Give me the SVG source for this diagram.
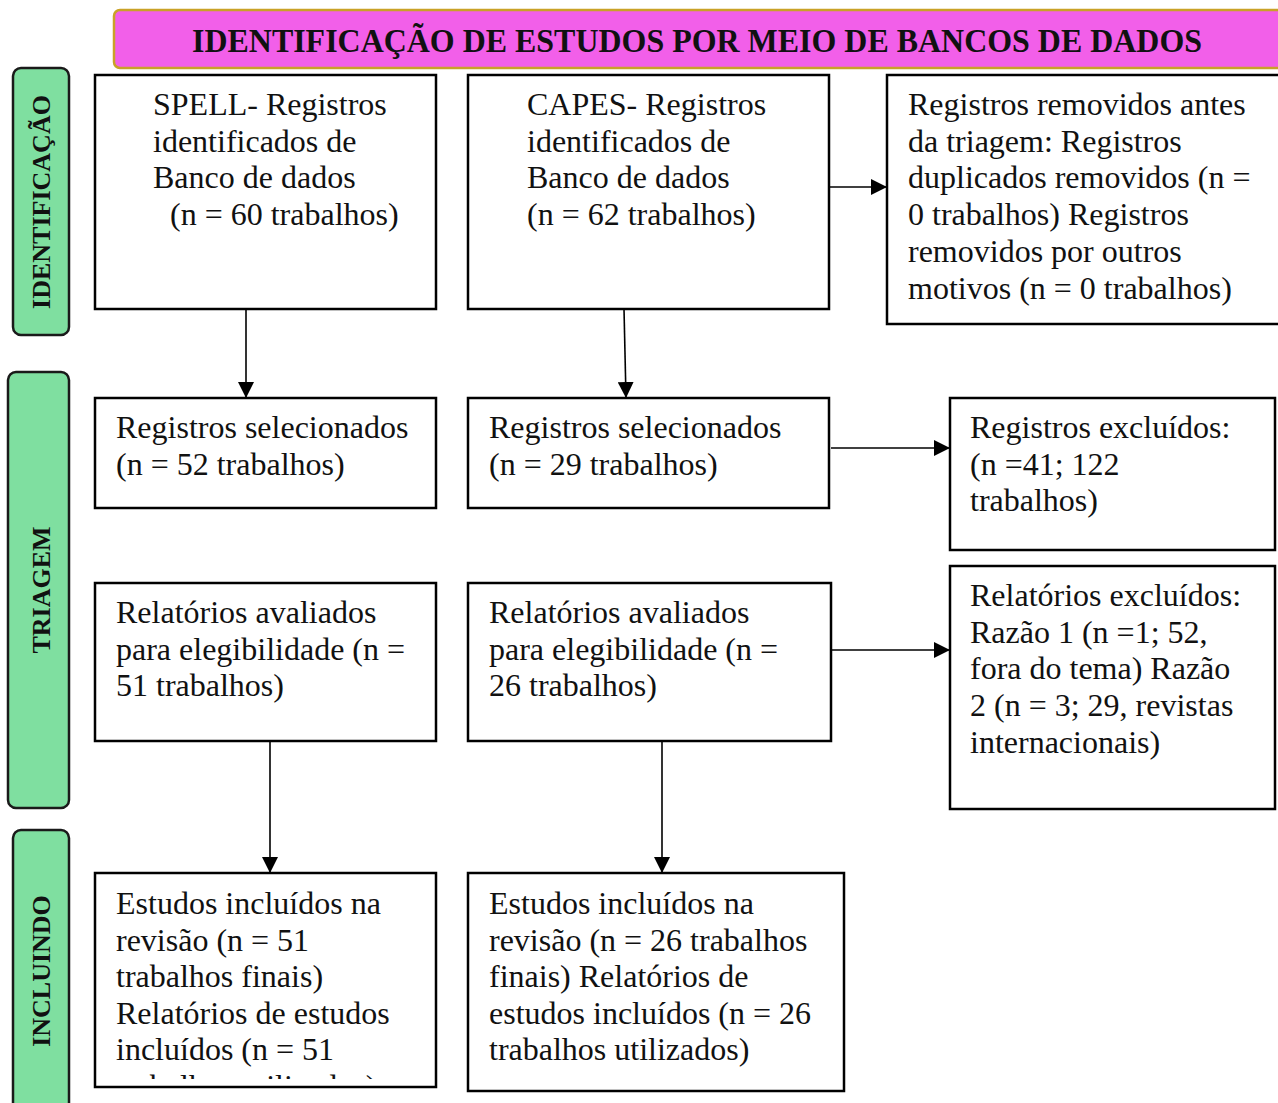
<svg xmlns="http://www.w3.org/2000/svg" width="1278" height="1103" viewBox="0 0 1278 1103">
<style>
.box{fill:#fff;stroke:#000;stroke-width:2.5}
.side{fill:#7FDFA0;stroke:#1a1a1a;stroke-width:2.5}
.t{font-family:"Liberation Serif","Times New Roman",serif;font-size:32px;fill:#111}
.st{font-family:"Liberation Serif","Times New Roman",serif;font-size:26px;font-weight:bold;fill:#111}
.c{stroke:#000;stroke-width:1.6;fill:none;marker-end:url(#ah)}
</style>
<defs>
<marker id="ah" viewBox="0 0 16 16" refX="16" refY="8" markerWidth="16" markerHeight="16" markerUnits="userSpaceOnUse" orient="auto">
<path d="M0,0 L16,8 L0,16 Z" fill="#000"/>
</marker>
<clipPath id="clipL"><rect x="95" y="875" width="340" height="204"/></clipPath>
</defs>

<g id="header">
<rect x="114" y="10" width="1180" height="58" rx="6" fill="#F25FE9" stroke="#C9A227" stroke-width="2.5"/>
<text x="192" y="52" font-family="Liberation Serif,Times New Roman,serif" font-weight="bold" font-size="34" fill="#111" textLength="1010" lengthAdjust="spacingAndGlyphs">IDENTIFICAÇÃO DE ESTUDOS POR MEIO DE BANCOS DE DADOS</text>
</g>

<g id="side-identificacao">
<rect class="side" x="13" y="68" width="56" height="267" rx="8"/>
<text class="st" transform="translate(50,202) rotate(-90)" text-anchor="middle">IDENTIFICAÇÃO</text>
</g>
<g id="side-triagem">
<rect class="side" x="8" y="372" width="61" height="436" rx="8"/>
<text class="st" transform="translate(50,590) rotate(-90)" text-anchor="middle">TRIAGEM</text>
</g>
<g id="side-incluindo">
<rect class="side" x="13" y="830" width="56" height="290" rx="8"/>
<text class="st" transform="translate(50,971) rotate(-90)" text-anchor="middle">INCLUINDO</text>
</g>

<g id="connectors">
<line class="c" x1="246" y1="309" x2="246" y2="398"/>
<line class="c" x1="624" y1="309" x2="626" y2="398"/>
<line class="c" x1="829" y1="187" x2="887" y2="187"/>
<line class="c" x1="831" y1="448" x2="950" y2="448"/>
<line class="c" x1="831" y1="650" x2="950" y2="650"/>
<line class="c" x1="270" y1="741" x2="270" y2="873"/>
<line class="c" x1="662" y1="741" x2="662" y2="873"/>
</g>

<g id="spell">
<rect class="box" x="95" y="75" width="341" height="234"/>
<text class="t" x="153" y="115">SPELL- Registros</text>
<text class="t" x="153" y="152">identificados de</text>
<text class="t" x="153" y="188">Banco de dados</text>
<text class="t" x="170" y="225">(n = 60 trabalhos)</text>
</g>
<g id="capes">
<rect class="box" x="468" y="75" width="361" height="234"/>
<text class="t" x="527" y="115">CAPES- Registros</text>
<text class="t" x="527" y="152">identificados de</text>
<text class="t" x="527" y="188">Banco de dados</text>
<text class="t" x="527" y="225">(n = 62 trabalhos)</text>
</g>
<g id="removidos">
<rect class="box" x="887" y="75" width="400" height="249"/>
<text class="t" x="908" y="115">Registros removidos antes</text>
<text class="t" x="908" y="152">da triagem: Registros</text>
<text class="t" x="908" y="188">duplicados removidos (n =</text>
<text class="t" x="908" y="225">0 trabalhos) Registros</text>
<text class="t" x="908" y="262">removidos por outros</text>
<text class="t" x="908" y="299">motivos (n = 0 trabalhos)</text>
</g>

<g id="sel-spell">
<rect class="box" x="95" y="398" width="341" height="110"/>
<text class="t" x="116" y="438">Registros selecionados</text>
<text class="t" x="116" y="475">(n = 52 trabalhos)</text>
</g>
<g id="sel-capes">
<rect class="box" x="468" y="398" width="361" height="110"/>
<text class="t" x="489" y="438">Registros selecionados</text>
<text class="t" x="489" y="475">(n = 29 trabalhos)</text>
</g>
<g id="excluidos">
<rect class="box" x="950" y="398" width="325" height="152"/>
<text class="t" x="970" y="438">Registros excluídos:</text>
<text class="t" x="970" y="475">(n =41; 122</text>
<text class="t" x="970" y="511">trabalhos)</text>
</g>

<g id="aval-spell">
<rect class="box" x="95" y="583" width="341" height="158"/>
<text class="t" x="116" y="623">Relatórios avaliados</text>
<text class="t" x="116" y="660">para elegibilidade (n =</text>
<text class="t" x="116" y="696">51 trabalhos)</text>
</g>
<g id="aval-capes">
<rect class="box" x="468" y="583" width="363" height="158"/>
<text class="t" x="489" y="623">Relatórios avaliados</text>
<text class="t" x="489" y="660">para elegibilidade (n =</text>
<text class="t" x="489" y="696">26 trabalhos)</text>
</g>
<g id="rel-excluidos">
<rect class="box" x="950" y="566" width="325" height="243"/>
<text class="t" x="970" y="606">Relatórios excluídos:</text>
<text class="t" x="970" y="643">Razão 1 (n =1; 52,</text>
<text class="t" x="970" y="679">fora do tema) Razão</text>
<text class="t" x="970" y="716">2 (n = 3; 29, revistas</text>
<text class="t" x="970" y="753">internacionais)</text>
</g>

<g id="incl-spell">
<rect class="box" x="95" y="873" width="341" height="214"/>
<g clip-path="url(#clipL)">
<text class="t" x="116" y="914">Estudos incluídos na</text>
<text class="t" x="116" y="951">revisão (n = 51</text>
<text class="t" x="116" y="987">trabalhos finais)</text>
<text class="t" x="116" y="1024">Relatórios de estudos</text>
<text class="t" x="116" y="1060">incluídos (n = 51</text>
<text class="t" x="116" y="1097">trabalhos utilizados)</text>
</g>
</g>
<g id="incl-capes">
<rect class="box" x="468" y="873" width="376" height="218"/>
<text class="t" x="489" y="914">Estudos incluídos na</text>
<text class="t" x="489" y="951">revisão (n = 26 trabalhos</text>
<text class="t" x="489" y="987">finais) Relatórios de</text>
<text class="t" x="489" y="1024">estudos incluídos (n = 26</text>
<text class="t" x="489" y="1060">trabalhos utilizados)</text>
</g>
</svg>
